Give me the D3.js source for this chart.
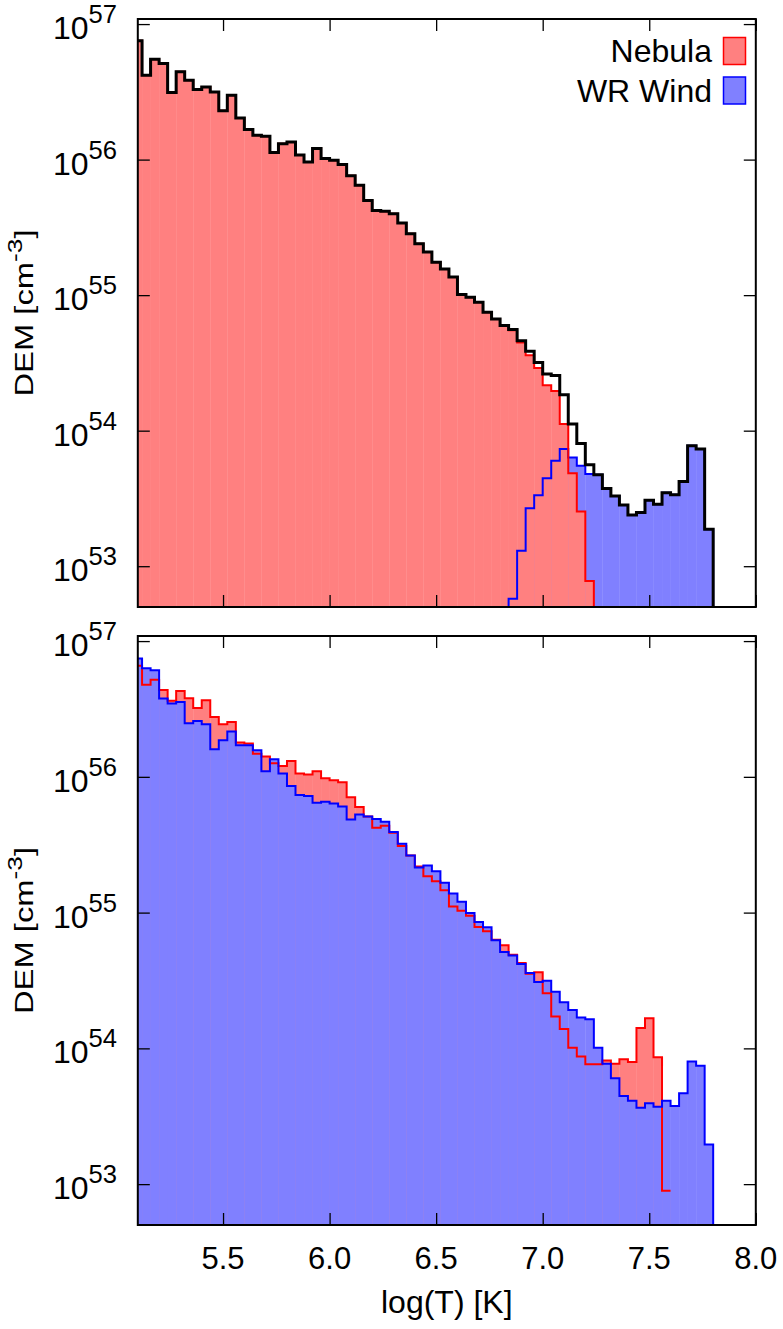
<!DOCTYPE html>
<html>
<head>
<meta charset="utf-8">
<script src="https://cdn.jsdelivr.net/npm/d3@7"></script>
<style>
    body { margin: 0; background: #fff; }
    svg text { font-family: "Liberation Sans", Arial, Helvetica, sans-serif; fill: #000; }
</style>
</head>
<body>
<svg id="chart" width="783" height="1329"></svg>
<script>
/*global d3*/

// bin centres of the log(T) histogram, 0.04 dex per bin
var logT = [5.10, 5.14, 5.18, 5.22, 5.26, 5.30, 5.34, 5.38, 5.42, 5.46,
    5.50, 5.54, 5.58, 5.62, 5.66, 5.70, 5.74, 5.78, 5.82, 5.86,
    5.90, 5.94, 5.98, 6.02, 6.06, 6.10, 6.14, 6.18, 6.22, 6.26,
    6.30, 6.34, 6.38, 6.42, 6.46, 6.50, 6.54, 6.58, 6.62, 6.66,
    6.70, 6.74, 6.78, 6.82, 6.86, 6.90, 6.94, 6.98, 7.02, 7.06,
    7.10, 7.14, 7.18, 7.22, 7.26, 7.30, 7.34, 7.38, 7.42, 7.46,
    7.50, 7.54, 7.58, 7.62, 7.66, 7.70, 7.74, 7.78, 7.82]
var binHalf = 0.02

// top panel : DEM [cm^-3] per bin
var nebulaTop = [7.53e56, 4.20e56, 5.51e56, 5.12e56, 3.13e56, 4.44e56, 3.85e56, 3.29e56, 3.44e56, 3.16e56,
    2.29e56, 2.99e56, 2.03e56, 1.67e56, 1.51e56, 1.49e56, 1.13e56, 1.31e56, 1.35e56, 1.08e56,
    9.6e55, 1.21e56, 1.02e56, 9.9e55, 9.2e55, 7.6e55, 6.46e55, 5.0e55, 4.22e55, 4.15e55,
    3.99e55, 3.40e55, 2.84e55, 2.39e55, 2.08e55, 1.75e55, 1.56e55, 1.36e55, 1.01e55, 9.65e54,
    8.86e54, 7.47e54, 6.68e54, 5.96e54, 5.51e54, 4.48e54, 3.6e54, 2.9e54, 2.16e54, 1.96e54,
    1.12e54, 4.86e53, 2.53e53, 7.78e52, 0, 0, 0, 0, 0, 0,
    0, 0, 0, 0, 0, 0, 0, 0, 0]
var windTop = [0, 0, 0, 0, 0, 0, 0, 0, 0, 0,
    0, 0, 0, 0, 0, 0, 0, 0, 0, 0,
    0, 0, 0, 0, 0, 0, 0, 0, 0, 0,
    0, 0, 0, 0, 0, 0, 0, 0, 0, 0,
    0, 0, 0, 0, 5.75e52, 1.30e53, 2.68e53, 3.34e53, 4.46e53, 5.99e53,
    7.31e53, 6.34e53, 5.5e53, 4.78e53, 4.72e53, 3.74e53, 3.30e53, 2.83e53, 2.39e53, 2.49e53,
    3.07e53, 2.87e53, 3.49e53, 3.36e53, 4.21e53, 7.73e53, 7.31e53, 1.87e53, 0]
var totalTop = [7.53e56, 4.20e56, 5.51e56, 5.12e56, 3.13e56, 4.44e56, 3.85e56, 3.29e56, 3.44e56, 3.16e56,
    2.29e56, 2.99e56, 2.03e56, 1.67e56, 1.51e56, 1.49e56, 1.13e56, 1.31e56, 1.35e56, 1.08e56,
    9.6e55, 1.21e56, 1.02e56, 9.9e55, 9.2e55, 7.6e55, 6.46e55, 5.0e55, 4.22e55, 4.15e55,
    3.99e55, 3.40e55, 2.84e55, 2.39e55, 2.08e55, 1.75e55, 1.56e55, 1.36e55, 1.01e55, 9.65e54,
    8.86e54, 7.47e54, 6.68e54, 5.96e54, 5.57e54, 4.61e54, 3.85e54, 3.19e54, 2.62e54, 2.55e54,
    1.84e54, 1.12e54, 8.04e53, 5.60e53, 4.72e53, 3.74e53, 3.30e53, 2.83e53, 2.39e53, 2.49e53,
    3.07e53, 2.87e53, 3.49e53, 3.36e53, 4.21e53, 7.73e53, 7.31e53, 1.87e53, 0]

// bottom panel
var nebulaBot = [6.57e56, 4.76e56, 5.18e56, 4.37e56, 3.63e56, 4.28e56, 3.80e56, 3.22e56, 3.67e56, 2.76e56,
    2.44e56, 2.54e56, 1.79e56, 1.76e56, 1.48e56, 1.41e56, 1.26e56, 1.20e56, 1.31e56, 1.06e56,
    1.04e56, 1.10e56, 9.75e55, 9.42e55, 9.11e55, 7.06e55, 5.99e55, 5.11e55, 4.22e55, 4.36e55,
    3.87e55, 3.09e55, 2.63e55, 2.19e55, 1.85e55, 1.70e55, 1.46e55, 1.11e55, 1.03e55, 9.50e54,
    7.84e54, 7.28e54, 6.32e54, 5.74e54, 4.90e54, 4.25e54, 3.55e54, 3.63e54, 2.55e54, 1.72e54,
    1.39e54, 1.01e54, 8.70e53, 7.65e53, 7.65e53, 8.13e53, 7.69e53, 8.32e53, 7.95e53, 1.41e54,
    1.67e54, 8.61e53, 8.93e52, null, null, null, null, null, null]
var windBot = [7.45e56, 6.32e56, 6.11e56, 3.78e56, 3.47e56, 3.56e56, 2.48e56, 2.58e56, 2.44e56, 1.60e56,
    1.86e56, 2.16e56, 1.71e56, 1.71e56, 1.57e56, 1.10e56, 1.35e56, 1.06e56, 8.55e55, 7.34e55,
    7.22e55, 6.45e55, 6.56e55, 6.37e55, 6.06e55, 4.86e55, 5.29e55, 5.11e55, 4.90e55, 4.66e55,
    3.93e55, 3.21e55, 2.63e55, 2.15e55, 2.22e55, 2.02e55, 1.66e55, 1.38e55, 1.20e55, 9.95e54,
    8.54e54, 7.79e54, 6.25e54, 5.13e54, 4.84e54, 4.18e54, 3.59e54, 3.08e54, 3.15e54, 2.61e54,
    2.19e54, 1.92e54, 1.69e54, 1.64e54, 1.01e54, 7.69e53, 6.03e53, 4.46e53, 4.12e53, 3.66e53,
    3.94e53, 3.72e53, 4.12e53, 3.76e53, 4.67e53, 7.99e53, 7.46e53, 1.96e53, 0]

var xTicks = [5.5, 6.0, 6.5, 7.0, 7.5, 8.0]
var yTicks = [1e53, 1e54, 1e55, 1e56, 1e57]
var legendNames = ["Nebula", "WR Wind"]

var redLine = "#ff0000", redFill = "#ff8080"
var blueLine = "#0000ff", blueFill = "#8080ff"

var svg = d3.select("#chart")
var left = 137.8, right = 755.8

var x = d3.scaleLinear().domain([5.1, 8.0]).range([left, right])
var yTop = d3.scaleLog().domain([5e52, 1.09e57]).range([607, 19])
var yBot = d3.scaleLog().domain([5e52, 1.09e57]).range([1225, 636])

var stepLine = d3.line()
    .defined(function (d) { return d !== null })
    .x(function (d) { return d[0] })
    .y(function (d) { return d[1] })

// histogram outline, zero bins sit just below the frame (clipped)
function stepPoints(vals, y) {
    var pts = []
    var floor = y.range()[0] + 4
    vals.forEach(function (v, i) {
        if (v === null) { pts.push(null); return }
        var yy = v > 0 ? y(v) : floor
        pts.push([x(logT[i] - binHalf), yy])
        pts.push([x(logT[i] + binHalf), yy])
    })
    return pts
}

function drawFill(g, vals, y, color) {
    var bins = vals.map(function (v, i) { return { c: logT[i], v: v } })
        .filter(function (d) { return d.v !== null && d.v > 0 })
    // small overlap so the seams between boxes stay faint
    g.append("g").selectAll("rect")
        .data(bins)
        .enter().append("rect")
        .attr("x", function (d) { return x(d.c - binHalf) })
        .attr("width", function (d) { return x(d.c + binHalf) - x(d.c - binHalf) + 0.35 })
        .attr("y", function (d) { return y(d.v) })
        .attr("height", function (d) { return y.range()[0] - y(d.v) })
        .attr("fill", color)
}

function drawStep(g, vals, y, color, w) {
    g.append("path")
        .attr("d", stepLine(stepPoints(vals, y)))
        .attr("fill", "none")
        .attr("stroke", color)
        .attr("stroke-width", w)
        .attr("stroke-linejoin", "miter")
}

function makePanel(id, y, showXLabels) {
    var top = y.range()[1], bottom = y.range()[0]
    svg.append("clipPath").attr("id", "clip-" + id)
        .append("rect")
        .attr("x", left).attr("y", top)
        .attr("width", right - left).attr("height", bottom - top)
    var g = svg.append("g").attr("id", id)
    var data = g.append("g").attr("clip-path", "url(#clip-" + id + ")")
    return { g: g, data: data, top: top, bottom: bottom, y: y, showXLabels: showXLabels }
}

function finishPanel(p) {
    var g = p.g, y = p.y
    // ticks on all four sides, pointing inward
    var axes = [
        d3.axisBottom(x).tickValues(xTicks).tickSizeInner(-12).tickSizeOuter(0).tickFormat(""),
        d3.axisTop(x).tickValues(xTicks).tickSizeInner(-12).tickSizeOuter(0).tickFormat(""),
        d3.axisLeft(y).tickValues(yTicks).tickSizeInner(-12).tickSizeOuter(0).tickFormat(""),
        d3.axisRight(y).tickValues(yTicks).tickSizeInner(-12).tickSizeOuter(0).tickFormat("")
    ]
    var shifts = ["translate(0," + p.bottom + ")", "translate(0," + p.top + ")",
        "translate(" + left + ",0)", "translate(" + right + ",0)"]
    axes.forEach(function (a, i) {
        var ag = g.append("g").attr("transform", shifts[i]).call(a)
        ag.select(".domain").remove()
        ag.selectAll(".tick line").attr("stroke", "#000").attr("stroke-width", 1.3)
    })

    g.append("rect")
        .attr("x", left).attr("y", p.top)
        .attr("width", right - left).attr("height", p.bottom - p.top)
        .attr("fill", "none").attr("stroke", "#000").attr("stroke-width", 2)

    // y tick labels 10^n
    yTicks.forEach(function (t) {
        var txt = g.append("text")
            .attr("x", 117).attr("y", y(t) + 15)
            .attr("text-anchor", "end")
            .style("font-size", "32px")
        txt.append("tspan").text("10")
        txt.append("tspan").attr("dy", -16).style("font-size", "25.6px")
            .text(Math.round(Math.log10(t)))
    })

    if (p.showXLabels) {
        g.selectAll("text.xt")
            .data(xTicks)
            .enter().append("text")
            .attr("class", "xt")
            .attr("x", function (d) { return x(d) })
            .attr("y", p.bottom + 44)
            .attr("text-anchor", "middle")
            .style("font-size", "31px")
            .text(d3.format(".1f"))
    }

    // y axis title
    var mid = (p.top + p.bottom) / 2
    var yl = g.append("text")
        .attr("transform", "translate(33," + mid + ") rotate(-90) scale(1.28,1)")
        .attr("text-anchor", "middle")
        .style("font-size", "25.6px")
    yl.append("tspan").text("DEM [cm")
    yl.append("tspan").attr("dy", -11).style("font-size", "20.5px").text("-3")
    yl.append("tspan").attr("dy", 11).text("]")
}

// ************************************************************ TOP PANEL
var pTop = makePanel("top", yTop, false)
drawFill(pTop.data, windTop, yTop, blueFill)
drawFill(pTop.data, nebulaTop, yTop, redFill)
drawStep(pTop.data, windTop, yTop, blueLine, 2)
drawStep(pTop.data, nebulaTop, yTop, redLine, 2)
drawStep(pTop.data, totalTop, yTop, "#000", 3)
finishPanel(pTop)

// legend
var legendColors = [[redFill, redLine], [blueFill, blueLine]]
legendNames.forEach(function (name, i) {
    var ly = 62 + i * 39.5
    pTop.g.append("text")
        .attr("x", 712).attr("y", ly)
        .attr("text-anchor", "end")
        .style("font-size", "32px")
        .text(name)
    pTop.g.append("rect")
        .attr("x", 723.5).attr("y", ly - 24.5)
        .attr("width", 22).attr("height", 27)
        .attr("fill", legendColors[i][0])
        .attr("stroke", legendColors[i][1])
        .attr("stroke-width", 1.5)
})

// ************************************************************ BOTTOM PANEL
var pBot = makePanel("bottom", yBot, true)
drawFill(pBot.data, nebulaBot, yBot, redFill)
drawFill(pBot.data, windBot, yBot, blueFill)
drawStep(pBot.data, nebulaBot, yBot, redLine, 2)
drawStep(pBot.data, windBot, yBot, blueLine, 2)
finishPanel(pBot)

svg.append("text")
    .attr("x", (left + right) / 2).attr("y", 1313)
    .attr("text-anchor", "middle")
    .style("font-size", "32px")
    .text("log(T) [K]")
</script>
</body>
</html>
